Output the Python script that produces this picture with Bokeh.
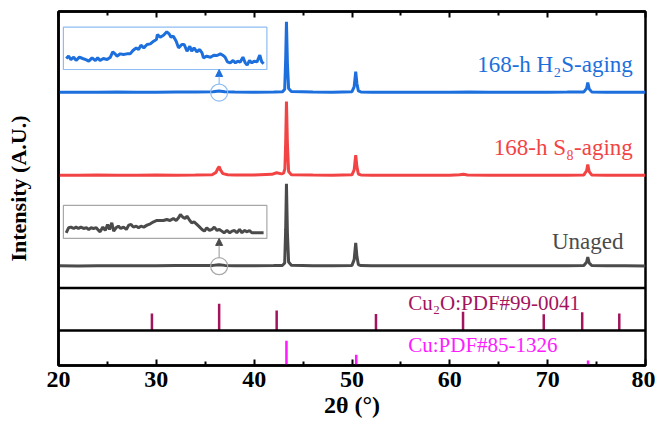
from bokeh.plotting import figure
from bokeh.models import (Range1d, LinearAxis, FixedTicker, Span, Arrow, NormalHead, Label,
                          CustomLabelingPolicy)
from bokeh.embed import file_html
from bokeh.resources import INLINE
from bokeh.core.properties import value

# ---------------- data ----------------
x_ticks = [20, 30, 40, 50, 60, 70, 80]
x_minor = [25, 35, 45, 55, 65, 75]

# XRD patterns (2theta, relative intensity; each curve shown with a vertical offset)
unaged_2theta = [20, 22, 24, 26, 28, 30, 32, 34, 35.8, 36.4, 37.0, 38, 40, 42, 42.9, 43.12,
                 43.22, 43.3, 43.4, 43.52, 43.8, 46, 48, 50.0, 50.22, 50.38, 50.5, 50.65, 50.9,
                 52, 54, 56, 58, 60, 62, 64, 66, 68, 70, 72, 73.7, 73.98, 74.1, 74.24, 74.5,
                 76, 78, 80]
unaged_int = [0.5, 0.3, 0.6, 0.4, 0.5, 0.6, 0.7, 0.8, 1.0, 1.8, 1.0, 0.6, 0.5, 0.7, 1.0, 4,
              45, 100, 40, 5, 1.2, 0.6, 0.5, 1.0, 8, 28.3, 12, 2, 0.8,
              0.5, 0.4, 0.5, 0.4, 0.5, 0.6, 0.4, 0.5, 0.4, 0.5, 0.6, 0.8, 5, 11, 4, 0.8,
              0.4, 0.5, 0.3]

s8_2theta = [20, 22, 24, 26, 28, 30, 32, 34, 35.7, 36.1, 36.3, 36.42, 36.55, 36.8, 37.3, 38, 40,
             41.8, 42.3, 42.8, 43.0, 43.14, 43.22, 43.3, 43.4, 43.52, 43.8, 46, 48, 50.0, 50.22,
             50.38, 50.5, 50.65, 50.9, 52, 54, 56, 58, 60, 61.0, 61.4, 61.8, 64, 66, 68, 70, 72,
             73.7, 73.98, 74.1, 74.24, 74.5, 76, 78, 80]
s8_int = [0.6, 0.5, 0.7, 0.5, 0.6, 0.7, 0.6, 0.8, 1.2, 4, 9, 11, 7, 2.5, 1.2, 0.8, 0.9,
          1.6, 3.6, 2.2, 3, 8, 40, 90, 38, 5, 1.2, 0.7, 0.6, 1.0, 7,
          25, 11, 2, 0.9, 0.6, 0.5, 0.6, 0.5, 0.6, 1.0, 1.8, 0.9, 0.6, 0.5, 0.6, 0.5, 0.6,
          0.9, 6, 13.4, 5, 0.9, 0.5, 0.6, 0.5]

h2s_2theta = [20, 22, 24, 26, 28, 30, 32, 34, 35.8, 36.4, 37.0, 38, 40, 42, 42.9, 43.12,
              43.22, 43.3, 43.4, 43.52, 43.8, 46, 48, 50.0, 50.22, 50.38, 50.5, 50.65, 50.9,
              52, 54, 56, 58, 60, 62, 64, 66, 68, 70, 72, 73.7, 73.98, 74.1, 74.24, 74.5,
              76, 78, 80]
h2s_int = [0.5, 0.4, 0.5, 0.6, 0.4, 0.5, 0.7, 0.8, 1.1, 1.9, 1.1, 0.7, 0.5, 0.8, 1.0, 4,
           40, 86, 35, 5, 1.2, 0.6, 0.5, 1.0, 7, 25.5, 11, 2, 0.8,
           0.5, 0.4, 0.5, 0.5, 0.4, 0.6, 0.5, 0.4, 0.5, 0.4, 0.6, 0.8, 5, 12, 4.5, 0.8,
           0.5, 0.4, 0.5]

offsets = {"unaged": 0, "s8": 110, "h2s": 211}

# zoomed insets around the Cu2O(111) reflection
inset_h2s_2theta = [34.30, 34.35, 34.40, 34.46, 34.51, 34.58, 34.65, 34.73, 34.78, 34.85, 34.92,
                    34.97, 35.02, 35.09, 35.17, 35.24, 35.29, 35.34, 35.38, 35.45, 35.52, 35.59,
                    35.66, 35.72, 35.79, 35.84, 35.89, 35.95, 36.02, 36.09, 36.16, 36.22, 36.24,
                    36.30, 36.37, 36.44, 36.49, 36.53, 36.58, 36.64, 36.69, 36.76, 36.81, 36.87,
                    36.93, 36.97, 37.02, 37.08, 37.14, 37.19, 37.22, 37.29, 37.37, 37.44, 37.51,
                    37.58, 37.63, 37.68, 37.73, 37.79, 37.85, 37.90, 37.95, 38.00, 38.06, 38.11,
                    38.15, 38.20, 38.25, 38.30, 38.36, 38.42, 38.46, 38.50]
inset_h2s_int = [28, 35, 25, 32, 22, 32, 28, 24, 20, 30, 22, 30, 22, 28, 25, 32, 48, 42, 35, 42,
                 40, 42, 42, 52, 60, 55, 68, 60, 70, 72, 80, 85, 100, 92, 98, 108, 102, 92, 95,
                 80, 60, 70, 70, 50, 65, 50, 60, 48, 55, 45, 30, 35, 32, 38, 37, 42, 38, 32, 18,
                 15, 22, 15, 20, 17, 32, 15, 8, 22, 15, 20, 18, 38, 18, 12]

inset_unaged_2theta = [34.30, 34.35, 34.40, 34.46, 34.51, 34.56, 34.61, 34.67, 34.73, 34.78,
                       34.83, 34.88, 34.94, 34.99, 35.02, 35.08, 35.13, 35.18, 35.22, 35.27,
                       35.31, 35.36, 35.41, 35.46, 35.52, 35.58, 35.63, 35.68, 35.73, 35.79,
                       35.84, 35.89, 35.95, 36.02, 36.09, 36.16, 36.23, 36.30, 36.37, 36.44,
                       36.51, 36.58, 36.64, 36.69, 36.73, 36.78, 36.83, 36.87, 36.93, 36.97,
                       37.02, 37.08, 37.14, 37.19, 37.24, 37.29, 37.35, 37.40, 37.45, 37.51,
                       37.56, 37.61, 37.66, 37.72, 37.78, 37.83, 37.88, 37.93, 37.99, 38.04,
                       38.09, 38.15, 38.20, 38.25, 38.32, 38.39, 38.50]
inset_unaged_int = [45, 60, 62, 58, 62, 58, 62, 58, 60, 55, 60, 58, 60, 52, 48, 62, 52, 70, 55,
                    75, 50, 60, 65, 58, 62, 55, 68, 70, 62, 65, 60, 65, 62, 68, 72, 78, 82, 82,
                    82, 85, 82, 88, 82, 90, 100, 92, 88, 95, 82, 75, 78, 70, 62, 55, 50, 60, 52,
                    55, 62, 52, 55, 50, 45, 52, 45, 50, 52, 45, 55, 45, 52, 48, 52, 45, 45, 45, 45]

# reference patterns
cu2o_2theta = [29.55, 36.42, 42.30, 52.45, 61.35, 69.60, 73.53, 77.32]
cu2o_int = [40, 63, 47, 39, 44, 38, 43, 40]
cu_2theta = [43.30, 50.43, 74.13]
cu_int = [71, 31, 14]

labels = ["168-h H\u2082S-aging", "168-h S\u2088-aging", "Unaged"]

# ---------------- styling / layout ----------------
FONT = "Liberation Serif"
BLUE, RED, GRAY = "#1c6fdc", "#f24444", "#4b4b4b"
BLUE_L, GRAY_L = "#8fbdf2", "#a8a8a8"
CU2O_C, CU_C = "#a3145d", "#ff1aff"

FW, FH = 587, 354
ZERO_PX, PX_PER_UNIT = 99.3, 0.823     # main panel: unaged baseline position / scale
CU2O_BAND, CU_BAND = (35.0, 77.6), (0.0, 35.0)


def band_range(px0, px1, v0=0.0, v1=100.0):
    s = (px1 - px0) / (v1 - v0)
    start = v0 - px0 / s
    return Range1d(start, start + FH / s)


main_start = -ZERO_PX / PX_PER_UNIT
p = figure(frame_width=FW, frame_height=FH, x_range=Range1d(20, 80),
           y_range=Range1d(main_start, main_start + FH / PX_PER_UNIT),
           output_backend="svg", toolbar_location=None,
           min_border_left=58, min_border_right=10, min_border_top=10, min_border_bottom=10,
           background_fill_color="white", border_fill_color="white")
p.extra_y_ranges = {"cu2o": band_range(*CU2O_BAND), "cu": band_range(*CU_BAND)}
p.grid.visible = False
p.outline_line_color = "black"
p.outline_line_width = 2.5

no_labels = CustomLabelingPolicy(code="for (const i of indices) indices.unset(i); return indices")

ticker = FixedTicker(ticks=x_ticks, minor_ticks=x_minor)
xa = p.xaxis[0]
xa.ticker = ticker
xa.axis_label = "2\u03b8 (\u00b0)"
xa.axis_label_text_font = FONT
xa.axis_label_text_font_style = "bold"
xa.axis_label_text_font_size = "24px"
xa.axis_label_text_color = "black"
xa.axis_label_standoff = 2
xa.major_label_text_font = FONT
xa.major_label_text_font_style = "bold"
xa.major_label_text_font_size = "24px"
xa.major_label_text_color = "black"
xa.major_label_standoff = 6

top = LinearAxis(ticker=ticker, major_label_policy=no_labels, major_label_standoff=0)
p.add_layout(top, "above")
for ax in [xa, top]:
    ax.axis_line_width = 2.5
    ax.axis_line_color = "black"
    ax.major_tick_in, ax.major_tick_out = 6, 0
    ax.minor_tick_in, ax.minor_tick_out = 4, 0
    ax.major_tick_line_width = 2
    ax.minor_tick_line_width = 2
    ax.major_tick_line_color = "black"
    ax.minor_tick_line_color = "black"

ya = p.yaxis[0]
ya.ticker = FixedTicker(ticks=[])
ya.major_label_policy = no_labels
ya.major_tick_in = ya.major_tick_out = 0
ya.minor_tick_in = ya.minor_tick_out = 0
ya.axis_line_width = 2.5
ya.axis_line_color = "black"
ya.axis_label = "Intensity (A.U.)"
ya.axis_label_text_font = FONT
ya.axis_label_text_font_style = "bold"
ya.axis_label_text_font_size = "22px"
ya.axis_label_text_color = "black"
ya.axis_label_standoff = 28

# separators between panels
for loc in (0, 100):
    p.add_layout(Span(location=loc, dimension="width", y_range_name="cu2o",
                      line_color="black", line_width=2.5))

# main curves
series = [(unaged_2theta, unaged_int, offsets["unaged"], GRAY),
          (s8_2theta, s8_int, offsets["s8"], RED),
          (h2s_2theta, h2s_int, offsets["h2s"], BLUE)]
for xs, ys, off, c in series:
    p.line(xs, [v + off for v in ys], line_color=c, line_width=3)

# curve labels
p.text(x=[78.7, 78.7, 77.75], y=[245, 143.7, 29.5], text=labels,
       text_color=[BLUE, RED, GRAY], text_align="right", text_baseline="middle",
       text_font=value(FONT), text_font_size="23px")

# insets
INSET_X_BOX = (20.5, 41.3)
INSET_X_WIN = (34.24, 38.57)
insets = [(inset_h2s_2theta, inset_h2s_int, (239.0, 290.4), (-5, 122), offsets["h2s"], BLUE, BLUE_L),
          (inset_unaged_2theta, inset_unaged_int, (33.7, 73.8), (28, 127), offsets["unaged"], GRAY, GRAY_L)]
for xs, ys, ybox, ywin, off, c, cl in insets:
    bx0, bx1 = INSET_X_BOX
    wx0, wx1 = INSET_X_WIN
    by0, by1 = ybox
    wy0, wy1 = ywin
    mx = [bx0 + (t - wx0) / (wx1 - wx0) * (bx1 - bx0) for t in xs]
    my = [by0 + (v - wy0) / (wy1 - wy0) * (by1 - by0) for v in ys]
    p.quad(left=[bx0], right=[bx1], bottom=[by0], top=[by1], fill_color=None,
           line_color=cl, line_width=1.2)
    p.line(mx, my, line_color=c, line_width=3)
    cx = cu2o_2theta[1]
    p.scatter(x=[cx], y=[off], marker="circle", size=17, fill_color=None,
              line_color=cl, line_width=1.2)
    p.add_layout(Arrow(x_start=cx, y_start=off + 8.5 / PX_PER_UNIT, x_end=cx, y_end=by0,
                       line_color=cl, line_width=1.2,
                       end=NormalHead(size=7, fill_color=c, line_color=c)))

# reference sticks
p.segment(x0=cu2o_2theta, y0=[0] * len(cu2o_2theta), x1=cu2o_2theta, y1=cu2o_int,
          y_range_name="cu2o", line_color=CU2O_C, line_width=2.5)
p.segment(x0=cu_2theta, y0=[0] * len(cu_2theta), x1=cu_2theta, y1=cu_int,
          y_range_name="cu", line_color=CU_C, line_width=2.5)
p.add_layout(Label(x=55.75, y=64.8, y_range_name="cu2o", text="Cu\u2082O:PDF#99-0041",
                   text_color=CU2O_C, text_font=FONT, text_font_size="21px",
                   text_baseline="middle"))
p.add_layout(Label(x=55.75, y=58, y_range_name="cu", text="Cu:PDF#85-1326",
                   text_color=CU_C, text_font=FONT, text_font_size="21px",
                   text_baseline="middle"))

open("out.html", "w").write(file_html(p, INLINE))
